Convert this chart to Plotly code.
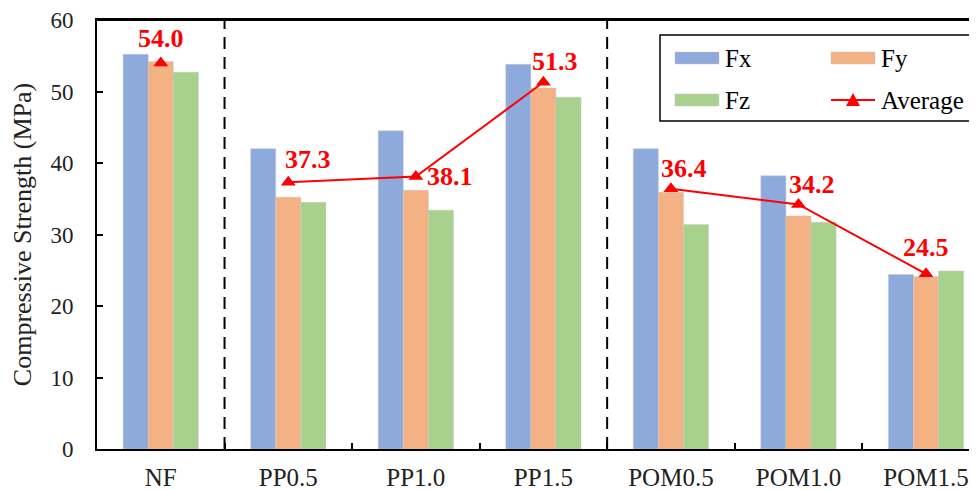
import plotly.graph_objects as go

categories = ["NF", "PP0.5", "PP1.0", "PP1.5", "POM0.5", "POM1.0", "POM1.5"]
fx = [55.2, 42.0, 44.5, 53.8, 42.0, 38.2, 24.4]
fy = [54.2, 35.2, 36.2, 50.5, 35.9, 32.6, 24.1]
fz = [52.7, 34.5, 33.4, 49.2, 31.4, 31.7, 24.9]
average = [54.0, 37.3, 38.1, 51.3, 36.4, 34.2, 24.5]
groups = [["NF"], ["PP0.5", "PP1.0", "PP1.5"], ["POM0.5", "POM1.0", "POM1.5"]]
y_ticks = [0, 10, 20, 30, 40, 50, 60]

# label offsets (pixels) for the average value annotations
label_dx = [0, 20, 34, 12, 13, 14, 0]
label_dy = [24, 23, 0, 21, 20, 20, 26]

FONT = "Liberation Serif, Times New Roman, serif"
C_FX, C_FY, C_FZ = "#8EA9DB", "#F4B183", "#A9D18E"
RED = "#FF0000"

# window is 977x490; the page body adds an 8px margin, so the figure is 8px smaller
OFF = 8
WIN_W, WIN_H = 977, 490
W, H = WIN_W - OFF, WIN_H - OFF
# plot area in window pixel coordinates
PL, PR, PT, PB = 97, 977, 20, 449


def px(x):
    return (x - PL) / (PR - PL)


def py(y):
    return (PB - y) / (PB - PT)


fig = go.Figure()
for name, vals, col in [("Fx", fx, C_FX), ("Fy", fy, C_FY), ("Fz", fz, C_FZ)]:
    fig.add_trace(go.Bar(x=categories, y=vals, name=name, marker_color=col,
                         marker_line_width=0.6, marker_line_color="rgba(200,200,200,0.8)",
                         showlegend=False))

avg_map = dict(zip(categories, average))
for g in groups:
    fig.add_trace(go.Scatter(x=g, y=[avg_map[c] for c in g], mode="lines+markers",
                             line=dict(color=RED, width=2),
                             marker=dict(symbol="triangle-up", size=13, color=RED),
                             name="Average", showlegend=False))

for c, v, dx, dy in zip(categories, average, label_dx, label_dy):
    fig.add_annotation(x=c, y=v, text=f"<b>{v:.1f}</b>", showarrow=False,
                       xshift=dx, yshift=dy,
                       font=dict(family=FONT, size=26, color=RED))

# dashed group separators
for xb in [0.5, 3.5]:
    fig.add_shape(type="line", xref="x", yref="paper", x0=xb, x1=xb, y0=0, y1=1,
                  line=dict(color="black", width=2, dash="12px,8px"))

# top border of the plot area
fig.add_shape(type="line", xref="paper", yref="paper", x0=0, x1=1, y0=1, y1=1,
              line=dict(color="black", width=2))

# manual legend
fig.add_shape(type="rect", xref="paper", yref="paper",
              x0=px(660), x1=px(972), y0=py(121), y1=py(35),
              line=dict(color="black", width=1.5), fillcolor="white")
legend_items = [("Fx", C_FX, 675, 58), ("Fy", C_FY, 831, 58), ("Fz", C_FZ, 675, 100)]
for name, col, lx, ly in legend_items:
    fig.add_shape(type="rect", xref="paper", yref="paper",
                  x0=px(lx), x1=px(lx + 44), y0=py(ly + 6), y1=py(ly - 6),
                  line=dict(color="rgba(200,200,200,0.8)", width=0.6), fillcolor=col)
    fig.add_annotation(xref="paper", yref="paper", x=px(lx + 48), y=py(ly),
                       xanchor="left", yanchor="middle", showarrow=False, text=name,
                       font=dict(family=FONT, size=25, color="black"))
ax_, ay_ = 831, 100
fig.add_shape(type="line", xref="paper", yref="paper", x0=px(ax_), x1=px(ax_ + 44),
              y0=py(ay_), y1=py(ay_), line=dict(color=RED, width=2))
fig.add_shape(type="path", xref="paper", yref="paper",
              path=f"M {px(ax_+15)},{py(ay_+6)} L {px(ax_+29)},{py(ay_+6)} L {px(ax_+22)},{py(ay_-7)} Z",
              fillcolor=RED, line=dict(color=RED, width=0))
fig.add_annotation(xref="paper", yref="paper", x=px(ax_ + 48), y=py(ay_),
                   xanchor="left", yanchor="middle", showarrow=False, text="Average",
                   font=dict(family=FONT, size=25, color="black"))

fig.update_layout(
    width=W, height=H,
    margin=dict(l=PL - OFF, r=WIN_W - PR, t=PT - OFF, b=WIN_H - PB, autoexpand=False),
    plot_bgcolor="white", paper_bgcolor="white",
    barmode="group", bargap=0.41, bargroupgap=0,
    font=dict(family=FONT, size=22, color="black"),
    showlegend=False,
)
fig.update_xaxes(type="category", categoryorder="array", categoryarray=categories,
                 range=[-0.5, 6.4], showline=True, linecolor="black", linewidth=2,
                 mirror=True, ticks="inside", ticklen=6, tickwidth=1.5, tickcolor="black",
                 tickson="boundaries", showgrid=False, ticklabelstandoff=5, automargin=False,
                 tickfont=dict(family=FONT, size=25, color="#222"))
fig.update_yaxes(range=[0, 60], tickvals=y_ticks, showline=True, linecolor="black",
                 linewidth=2, mirror=False, ticks="inside", ticklen=6, tickwidth=1.5,
                 tickcolor="black", showgrid=False, zeroline=False, ticklabelstandoff=17,
                 automargin=False, ticklabeloverflow="allow",
                 tickfont=dict(family=FONT, size=23, color="#222"),
                 title=dict(text="Compressive Strength (MPa)", standoff=15,
                            font=dict(family=FONT, size=26, color="#222")))

fig.write_html("out.html")
